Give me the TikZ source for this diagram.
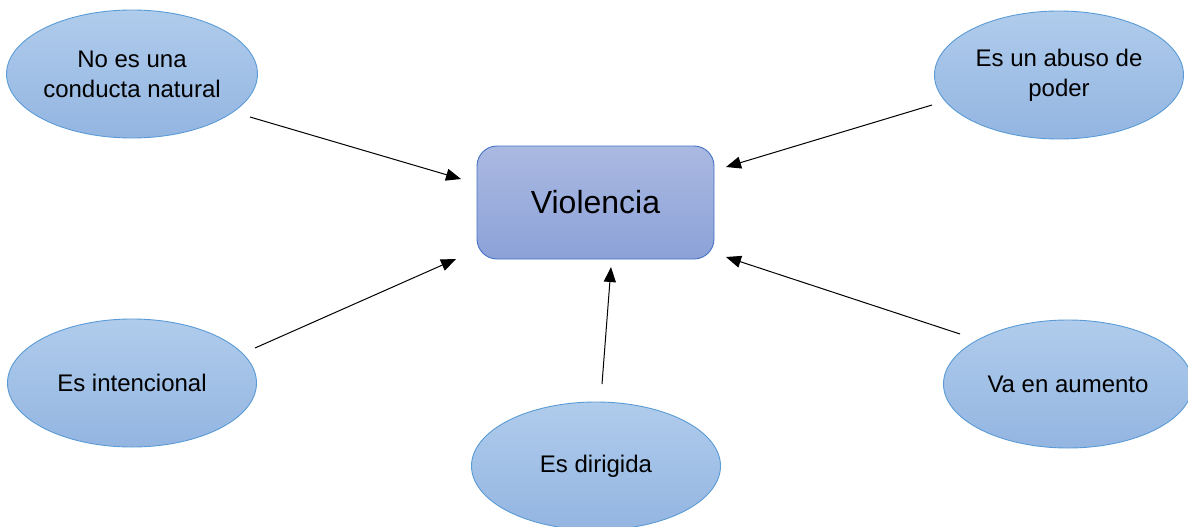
\documentclass[tikz,border=0pt]{standalone}
\usepackage{fontspec}
\setmainfont{Liberation Sans}
\usetikzlibrary{shapes.geometric,arrows.meta}
\definecolor{ellline}{HTML}{5B9BD5}
\definecolor{elltop}{HTML}{B0CCEC}
\definecolor{ellbot}{HTML}{93B5E1}
\definecolor{recline}{HTML}{4472C4}
\definecolor{rectop}{HTML}{AAB9E1}
\definecolor{recbot}{HTML}{8CA2D8}
\tikzset{
  idea/.style={ellipse, draw=ellline, line width=0.9pt, top color=elltop, bottom color=ellbot,
    minimum width=249pt, minimum height=128pt, inner sep=0pt, align=center,
    font=\fontsize{24}{30}\selectfont},
  central/.style={rectangle, rounded corners=20pt, draw=recline, line width=0.9pt,
    top color=rectop, bottom color=recbot, minimum width=237pt, minimum height=113pt,
    font=\fontsize{32}{38}\selectfont},
  conn/.style={line width=1pt, -{Triangle[length=15pt,width=12pt]}}
}
\begin{document}
\begin{tikzpicture}[x=1pt,y=-1pt]
\useasboundingbox (0,0) rectangle (1188,527);
\node[central] (v) at (595.5,202.5) {Violencia};
\node[idea] (a) at (132,74) {No es una\\conducta natural};
\node[idea] (b) at (1059,75) {Es un abuso de\\poder};
\node[idea] (c) at (132,383) {Es intencional};
\node[idea] (d) at (596,466) {Es dirigida};
\node[idea] (e) at (1068,384) {Va en aumento};
\coordinate (a1) at (250,117); \coordinate (a2) at (461,179);
\coordinate (b1) at (932,105); \coordinate (b2) at (726,167);
\coordinate (c1) at (255,348); \coordinate (c2) at (456,259);
\coordinate (d1) at (602,384); \coordinate (d2) at (611,267);
\coordinate (e1) at (960,334); \coordinate (e2) at (726,257);
\draw[conn] (a1) -- (a2);
\draw[conn] (b1) -- (b2);
\draw[conn] (c1) -- (c2);
\draw[conn] (d1) -- (d2);
\draw[conn] (e1) -- (e2);
\end{tikzpicture}
\end{document}
